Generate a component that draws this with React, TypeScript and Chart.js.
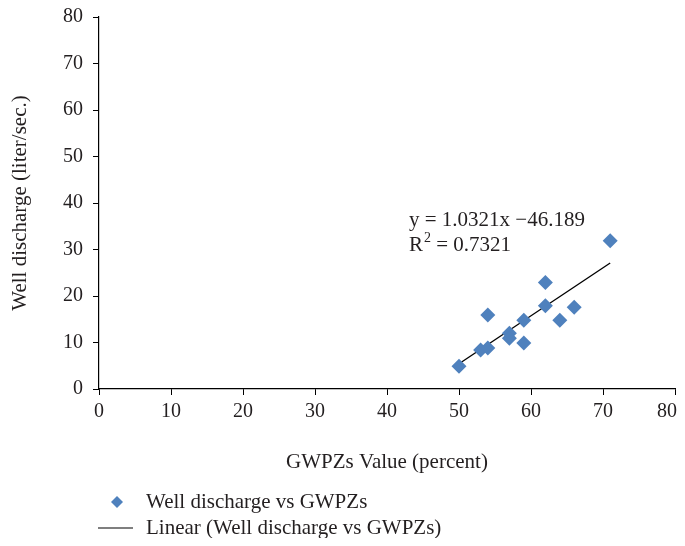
import React, { useEffect, useRef } from "react";
import { Chart, registerables } from "chart.js";
Chart.register(...registerables);

const gwpzX = [50, 53, 54, 54, 57, 57, 59, 59, 62, 62, 64, 66, 71];
const dischargeY = [4.9, 8.4, 8.8, 15.9, 12.0, 10.9, 14.8, 9.9, 22.9, 17.9, 14.8, 17.6, 31.9];
const trendX = [50, 71];
const trendY = [5.416, 27.09];
const xTicks = [0, 10, 20, 30, 40, 50, 60, 70, 80];
const yTicks = [0, 10, 20, 30, 40, 50, 60, 70, 80];
const seriesName = "Well discharge vs GWPZs";
const trendName = "Linear (Well discharge vs GWPZs)";
const xTitle = "GWPZs Value (percent)";
const yTitle = "Well discharge (liter/sec.)";
const eqText = "y = 1.0321x \u221246.189";
const r2Text = "R";
const r2Value = " = 0.7321";

const FONT = '"Liberation Serif", "Times New Roman", serif';
const FS = 21;
const TICK_FS = 20;
const TXT = "#231f20";
const BLUE = "#4f81bd";
const X_MAX = xTicks[xTicks.length - 1];

const overlay = {
  id: "overlay",
  afterDraw(chart: any) {
    const { ctx, chartArea: a, scales } = chart;
    ctx.save();
    ctx.fillStyle = TXT;
    // last x tick label, kept inside the canvas
    ctx.font = `${TICK_FS}px ${FONT}`;
    ctx.textBaseline = "middle";
    const lastLbl = String(X_MAX);
    const lw = ctx.measureText(lastLbl).width;
    const lx = Math.min(scales.x.getPixelForValue(X_MAX) - lw / 2, chart.width - lw);
    ctx.textAlign = "left";
    ctx.fillText(lastLbl, lx, a.bottom + 23);
    ctx.font = `${FS}px ${FONT}`;
    // y title
    ctx.save();
    ctx.translate(12, (a.top + a.bottom) / 2);
    ctx.rotate(-Math.PI / 2);
    ctx.textAlign = "center";
    ctx.fillText(yTitle, 0, 0);
    ctx.restore();
    // x title
    ctx.textAlign = "center";
    ctx.fillText(xTitle, (a.left + a.right) / 2, 454);
    // equation
    ctx.textAlign = "left";
    const ex = a.left + 310;
    ctx.fillText(eqText, ex, 212);
    ctx.fillText(r2Text, ex, 237);
    const rw = ctx.measureText(r2Text).width;
    ctx.font = `${Math.round(FS * 0.65)}px ${FONT}`;
    ctx.fillText("2", ex + rw + 1, 230);
    const w2 = ctx.measureText("2").width;
    ctx.font = `${FS}px ${FONT}`;
    ctx.fillText(r2Value, ex + rw + 1 + w2, 237);
    // legend
    const dx = 109, dy = 494, r = 6;
    ctx.fillStyle = BLUE;
    ctx.beginPath();
    ctx.moveTo(dx - r, dy);
    ctx.lineTo(dx, dy - r);
    ctx.lineTo(dx + r, dy);
    ctx.lineTo(dx, dy + r);
    ctx.closePath();
    ctx.fill();
    ctx.fillStyle = TXT;
    ctx.fillText(seriesName, 138, dy);
    ctx.strokeStyle = "#000";
    ctx.lineWidth = 1.2;
    ctx.beginPath();
    ctx.moveTo(90, 520);
    ctx.lineTo(125, 520);
    ctx.stroke();
    ctx.fillText(trendName, 138, 520);
    ctx.restore();
  },
};

export default function App() {
  const ref = useRef<HTMLCanvasElement>(null);
  useEffect(() => {
    if (!ref.current) return;
    const chart = new Chart(ref.current, {
      type: "scatter",
      data: {
        datasets: [
          {
            label: seriesName,
            data: gwpzX.map((x, i) => ({ x, y: dischargeY[i] })),
            pointStyle: "rectRot",
            pointRadius: 7.5,
            pointHoverRadius: 7.5,
            backgroundColor: BLUE,
            borderColor: BLUE,
            borderWidth: 0,
          },
          {
            label: trendName,
            data: trendX.map((x, i) => ({ x, y: trendY[i] })),
            showLine: true,
            pointRadius: 0,
            borderColor: "#000",
            borderWidth: 1.3,
            backgroundColor: "#000",
          },
        ],
      },
      options: {
        responsive: false,
        animation: false,
        layout: { autoPadding: false, padding: { left: 0, right: 2, top: 9, bottom: 0 } },
        plugins: { legend: { display: false }, tooltip: { enabled: false } },
        scales: {
          x: {
            type: "linear",
            min: 0,
            max: X_MAX,
            afterBuildTicks: (s: any) => {
              s.ticks = xTicks.map((v) => ({ value: v }));
            },
            afterFit: (s: any) => {
              s.height = 149;
              s.paddingLeft = 0;
              s.paddingRight = 0;
            },
            grid: { display: true, drawOnChartArea: false, tickLength: 6, color: "#000", lineWidth: 1 },
            border: { display: true, color: "#000", width: 1.2 },
            ticks: {
              color: TXT,
              font: { family: FONT, size: TICK_FS },
              padding: 5,
              maxRotation: 0,
              callback: (v: any) => (v === X_MAX ? "" : String(v)),
            },
          },
          y: {
            type: "linear",
            min: 0,
            max: 80,
            afterBuildTicks: (s: any) => {
              s.ticks = yTicks.map((v) => ({ value: v }));
            },
            afterFit: (s: any) => {
              s.width = 91;
              s.paddingTop = 0;
              s.paddingBottom = 0;
            },
            grid: { display: true, drawOnChartArea: false, tickLength: 6, color: "#000", lineWidth: 1 },
            border: { display: true, color: "#000", width: 1.2 },
            ticks: { color: TXT, font: { family: FONT, size: TICK_FS }, padding: 10 },
          },
        },
      },
      plugins: [overlay],
    });
    return () => chart.destroy();
  }, []);
  return <canvas ref={ref} width={669} height={530} style={{ display: "block" }} />;
}
